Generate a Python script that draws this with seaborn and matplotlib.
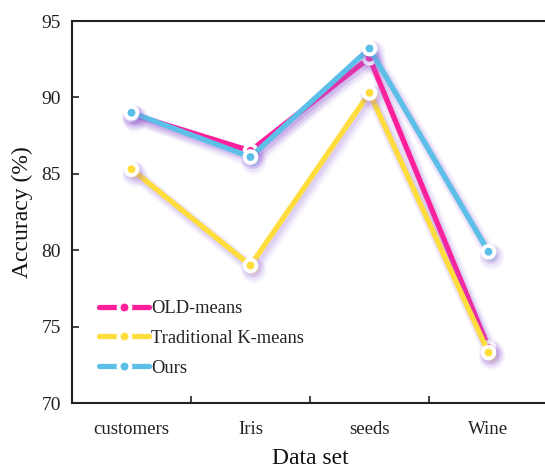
import matplotlib
matplotlib.use("Agg")
import matplotlib.pyplot as plt
import matplotlib.patheffects as pe
import seaborn as sns
import pandas as pd

categories = ["customers", "Iris", "seeds", "Wine"]
old_means = [88.9, 86.5, 92.6, 73.6]
traditional = [85.3, 79.0, 90.3, 73.3]
ours = [89.0, 86.1, 93.2, 79.9]
series_names = ["OLD-means", "Traditional K-means", "Ours"]
colors = ["#FF1F9A", "#FFDD3C", "#5BBFE8"]
yticks = [70, 75, 80, 85, 90, 95]

rows = []
for name, vals in zip(series_names, [old_means, traditional, ours]):
    for c, v in zip(categories, vals):
        rows.append({"Data set": c, "Accuracy": v, "Method": name})
df = pd.DataFrame(rows)

sns.set_theme(style="white")
plt.rcParams["font.family"] = ["Liberation Serif", "DejaVu Serif"]

fig = plt.figure(figsize=(5.45, 4.70), dpi=100)
ax = fig.add_axes([72/545, 67/470, 476/545, 382/470])

sns.lineplot(data=df, x="Data set", y="Accuracy", hue="Method",
             hue_order=series_names, palette=colors, sort=False,
             marker="o", markersize=8.5, markeredgecolor="white",
             markeredgewidth=2.8, linewidth=3.8, ax=ax, legend=True)

shadow = [
    pe.Stroke(offset=(2.5, -3.5), linewidth=10, foreground="#9a6ad8", alpha=0.07),
    pe.Stroke(offset=(2, -3), linewidth=7.5, foreground="#9a6ad8", alpha=0.11),
    pe.Stroke(offset=(1.5, -2), linewidth=5, foreground="#9a6ad8", alpha=0.16),
    pe.Normal(),
]
for ln in ax.lines:
    ln.set_path_effects(shadow)
    ln.set_solid_capstyle("round")

ax.set_xlim(-0.5, 3.5)
ax.set_ylim(70, 95)
ax.set_yticks(yticks)
ax.set_yticklabels([str(t) for t in yticks])
ax.set_xticks(range(len(categories)))
ax.set_xticklabels(categories)
ax.set_xticks([0.5, 1.5, 2.5], minor=True)
ax.tick_params(axis="x", which="major", length=0, pad=13, labelsize=13.5, colors="#222222")
ax.tick_params(axis="x", which="minor", direction="in", length=5, width=1.2, color="#222222", bottom=True)
ax.tick_params(axis="y", which="major", direction="in", length=5, width=1.2, color="#222222",
               left=True, labelsize=14, labelcolor="#222222", pad=8)
for s in ax.spines.values():
    s.set_linewidth(1.5)
    s.set_color("#222222")
ax.spines["right"].set_visible(False)

ax.set_xlabel("Data set", fontsize=17, color="#111111", labelpad=7)
ax.set_ylabel("Accuracy (%)", fontsize=17, color="#111111", labelpad=6)

leg = ax.legend(loc="lower left", bbox_to_anchor=(0.042, 0.05), frameon=False,
                fontsize=13.3, handlelength=2.7, handletextpad=0.1,
                labelspacing=0.68, borderaxespad=0)
for h in leg.legend_handles:
    h.set_linewidth(3.8)
    h.set_solid_capstyle("round")
    h.set_path_effects([])
for t in leg.get_texts():
    t.set_color("#222222")

fig.savefig("out.png", dpi=100)
